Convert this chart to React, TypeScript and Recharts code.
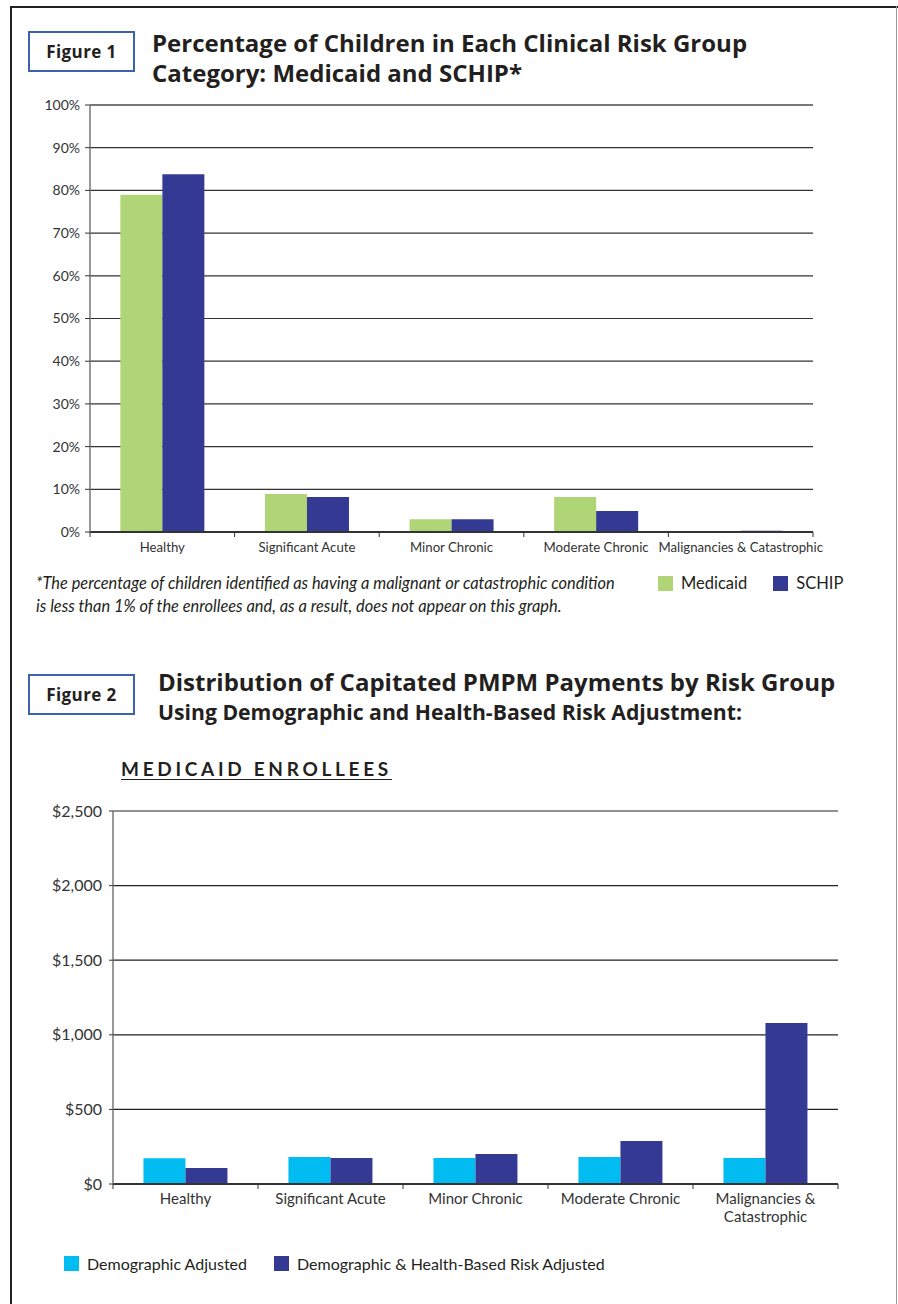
import React from "react";
import { BarChart, Bar, XAxis, YAxis, CartesianGrid, ReferenceLine } from "recharts";

const categories = ["Healthy", "Significant Acute", "Minor Chronic", "Moderate Chronic", "Malignancies & Catastrophic"];
const medicaidPct = [79, 8.9, 3.0, 8.2, 0.1];
const schipPct = [83.8, 8.2, 3.0, 4.9, 0.3];
const pctTicks = [0, 10, 20, 30, 40, 50, 60, 70, 80, 90, 100];

const demographicAdj = [172, 181, 174, 181, 174];
const healthBasedAdj = [107, 174, 201, 288, 1079];
const dollarTicks = [0, 500, 1000, 1500, 2000, 2500];

const fig1Series = [
  { key: "medicaid", name: "Medicaid", color: "#b0d576" },
  { key: "schip", name: "SCHIP", color: "#343a94" },
];
const fig2Series = [
  { key: "demo", name: "Demographic Adjusted", color: "#00bcf0" },
  { key: "health", name: "Demographic & Health-Based Risk Adjusted", color: "#343a94" },
];

const fig1Data = categories.map((c, i) => ({ category: c, medicaid: medicaidPct[i], schip: schipPct[i] }));
const fig2Data = categories.map((c, i) => ({ category: c, demo: demographicAdj[i], health: healthBasedAdj[i] }));

const FONT = "Lato, 'Open Sans', sans-serif";
const TITLE_FONT = "'Open Sans', Lato, sans-serif";
const TEXT = "#231f20";

// chart layouts
const W = 898;
const H1 = 570;
const M1 = { top: 105, right: 85, left: 0, bottom: 8 };
const YW1 = 90;
const XH1 = 30;
const BAND1 = (W - M1.left - M1.right - YW1) / categories.length;

const H2 = 480;
const M2 = { top: 51, right: 60, left: 0, bottom: 6 };
const YW2 = 113;
const XH2 = 50;
const BAND2 = (W - M2.left - M2.right - YW2) / categories.length;

function makeTick(band: number, fontSize: number, wrap: boolean, lineGap: number, firstDy: number) {
  return (props: any) => {
    const { x, y, payload, index } = props;
    const label: string = String(payload.value);
    let lines = [label];
    if (wrap && label.includes("& ")) {
      const k = label.indexOf("& ") + 1;
      lines = [label.slice(0, k), label.slice(k + 1)];
    }
    const left = x - band / 2;
    const isLast = index === categories.length - 1;
    return (
      <g>
        <line x1={left} y1={y} x2={left} y2={y + 5} stroke="#333" strokeWidth={1} />
        {isLast && <line x1={left + band} y1={y} x2={left + band} y2={y + 5} stroke="#333" strokeWidth={1} />}
        {lines.map((l, i) => (
          <text key={i} x={x} y={y + firstDy + i * lineGap} textAnchor="middle" fontSize={fontSize} fill="#333" fontFamily={FONT}>
            {l}
          </text>
        ))}
      </g>
    );
  };
}

const Tick1 = makeTick(BAND1, 13.2, false, 0, 20);
const Tick2 = makeTick(BAND2, 15, true, 18, 20);

function FigureBox({ top, label }: { top: number; label: string }) {
  return (
    <div
      style={{
        position: "absolute",
        left: 28,
        top,
        width: 103,
        height: 37,
        border: "2px solid #3c64ad",
        display: "flex",
        alignItems: "center",
        justifyContent: "center",
        fontFamily: TITLE_FONT,
        fontWeight: 700,
        fontSize: 17,
        letterSpacing: 0.4,
        color: TEXT,
      }}
    >
      {label}
    </div>
  );
}

function LegendItems({ items, left, top, gap, fontSize }: any) {
  return (
    <div style={{ position: "absolute", left, top, display: "flex", alignItems: "center", fontFamily: FONT, fontSize, color: TEXT, whiteSpace: "nowrap" }}>
      {items.map((s: any, i: number) => (
        <div key={s.key} style={{ display: "flex", alignItems: "center", marginLeft: i === 0 ? 0 : gap }}>
          <div style={{ width: 15, height: 15, background: s.color, marginRight: 8 }} />
          <span>{s.name}</span>
        </div>
      ))}
    </div>
  );
}

export default function App() {
  return (
    <div style={{ position: "absolute", left: 0, top: 0, width: W, height: 1304, background: "#fff", overflow: "hidden" }}>
      {/* page frame */}
      <div style={{ position: "absolute", left: 11, top: 6, width: 887, height: 2, background: "#222" }} />
      <div style={{ position: "absolute", left: 10, top: 6, width: 2, height: 1300, background: "#222" }} />
      <div style={{ position: "absolute", left: 896, top: 6, width: 1, height: 1300, background: "#999" }} />

      {/* Figure 1 header */}
      <FigureBox top={31} label="Figure 1" />
      <div style={{ position: "absolute", left: 152, top: 28, fontFamily: TITLE_FONT, fontWeight: 700, fontSize: 24, lineHeight: "30px", color: TEXT, whiteSpace: "nowrap" }}>
        Percentage of Children in Each Clinical Risk Group
        <br />
        Category: Medicaid and SCHIP*
      </div>

      {/* Figure 1 chart */}
      <div style={{ position: "absolute", left: 0, top: 0 }}>
        <BarChart width={W} height={H1} data={fig1Data} margin={M1} barCategoryGap="21%" barGap={0}>
          <CartesianGrid vertical={false} stroke="#333" strokeWidth={1.2} />
          <XAxis
            dataKey="category"
            height={XH1}
            tickLine={false}
            tickSize={0}
            tickMargin={0}
            axisLine={{ stroke: "#333", strokeWidth: 2 }}
            tick={Tick1}
            interval={0}
          />
          <YAxis
            width={YW1}
            domain={[0, 100]}
            ticks={pctTicks}
            tickFormatter={(v: number) => `${v}%`}
            tickSize={5}
            tickMargin={5}
            tickLine={{ stroke: "#333" }}
            axisLine={{ stroke: "#777", strokeWidth: 1.5 }}
            tick={{ fontSize: 14, fill: "#333", fontFamily: FONT }}
            interval={0}
          />
          <YAxis yAxisId="r" orientation="right" width={0} tick={false} tickLine={false} axisLine={{ stroke: "#777", strokeWidth: 1.5 }} />
          <ReferenceLine y={100} stroke="#777" strokeWidth={2} />
          {fig1Series.map((s) => (
            <Bar key={s.key} dataKey={s.key} name={s.name} fill={s.color} isAnimationActive={false} />
          ))}
        </BarChart>
      </div>

      {/* Figure 1 footnote & legend */}
      <div style={{ position: "absolute", left: 36, top: 571, fontFamily: FONT, fontStyle: "italic", fontSize: 16.4, lineHeight: "23px", color: TEXT, whiteSpace: "nowrap" }}>
        *The percentage of children identified as having a malignant or catastrophic condition
        <br />
        is less than 1% of the enrollees and, as a result, does not appear on this graph.
      </div>
      <LegendItems items={fig1Series} left={658} top={573} gap={26} fontSize={16.5} />

      {/* Figure 2 header */}
      <FigureBox top={674} label="Figure 2" />
      <div style={{ position: "absolute", left: 158, top: 667, fontFamily: TITLE_FONT, fontWeight: 700, fontSize: 24, lineHeight: "30px", color: TEXT, whiteSpace: "nowrap" }}>
        Distribution of Capitated PMPM Payments by Risk Group
      </div>
      <div style={{ position: "absolute", left: 158, top: 698, fontFamily: TITLE_FONT, fontWeight: 700, fontSize: 21.2, lineHeight: "27px", color: TEXT, whiteSpace: "nowrap" }}>
        Using Demographic and Health-Based Risk Adjustment:
      </div>
      <div
        style={{
          position: "absolute",
          left: 121,
          top: 757,
          fontFamily: FONT,
          fontWeight: 700,
          fontSize: 19,
          letterSpacing: 3.7,
          textDecoration: "underline",
          textUnderlineOffset: 3,
          color: TEXT,
          whiteSpace: "nowrap",
        }}
      >
        MEDICAID ENROLLEES
      </div>

      {/* Figure 2 chart */}
      <div style={{ position: "absolute", left: 0, top: 760 }}>
        <BarChart width={W} height={H2} data={fig2Data} margin={M2} barCategoryGap="21%" barGap={0}>
          <CartesianGrid vertical={false} stroke="#222" strokeWidth={1.2} />
          <XAxis
            dataKey="category"
            height={XH2}
            tickLine={false}
            tickSize={0}
            tickMargin={0}
            axisLine={{ stroke: "#333", strokeWidth: 2 }}
            tick={Tick2}
            interval={0}
          />
          <YAxis
            width={YW2}
            domain={[0, 2500]}
            ticks={dollarTicks}
            tickFormatter={(v: number) => `$${v.toLocaleString("en-US")}`}
            tickSize={4}
            tickMargin={7}
            tickLine={{ stroke: "#333" }}
            axisLine={{ stroke: "#777", strokeWidth: 1.5 }}
            tick={{ fontSize: 16, fill: "#333", fontFamily: FONT }}
            interval={0}
          />
          <YAxis yAxisId="r" orientation="right" width={0} tick={false} tickLine={false} axisLine={{ stroke: "#555", strokeWidth: 1.5 }} />
          {fig2Series.map((s) => (
            <Bar key={s.key} dataKey={s.key} name={s.name} fill={s.color} isAnimationActive={false} />
          ))}
        </BarChart>
      </div>

      <LegendItems items={fig2Series} left={64} top={1254} gap={27} fontSize={16} />
    </div>
  );
}
